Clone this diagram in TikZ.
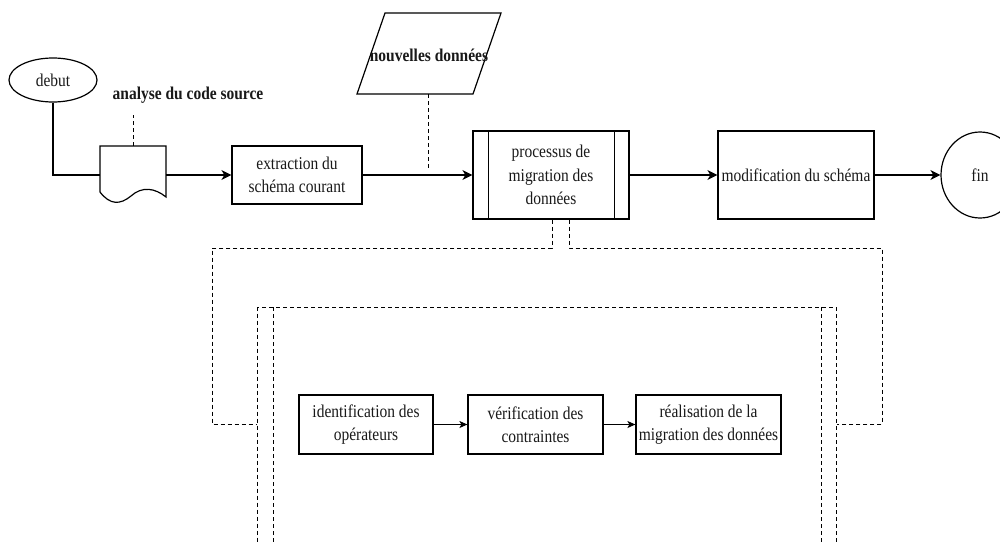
\documentclass[tikz,border=0pt]{standalone}
\usepackage{fontspec}
\setmainfont{Liberation Serif}[FakeStretch=0.86]
\usetikzlibrary{arrows.meta,shapes.geometric,calc}

\begin{document}
\begin{tikzpicture}[x=1pt,y=-1pt,
  txt/.style={font=\fontsize{18}{23.5}\selectfont, align=center, inner sep=0pt, text=black!90},
  lab/.style={txt, font=\fontsize{18}{23.5}\selectfont\bfseries},
  box/.style={txt, draw, line width=1.2pt},
  oval/.style={txt, draw, ellipse, line width=1.2pt},
  flow/.style={line width=1.2pt, -{Stealth[length=10pt,width=10pt,inset=3pt]}},
  small/.style={line width=1.2pt, -{Stealth[length=8pt,width=7pt,inset=2pt]}},
  dsh/.style={line width=1pt, dash pattern=on 4pt off 3pt},
  thin/.style={line width=1.2pt}]

\clip (0,0) rectangle (1000,541);
\fill[white] (0,0) rectangle (1000,541);

% --- main flow ---
\node[oval, minimum width=88pt, minimum height=44pt] (debut) at (53,80) {debut};

\node[minimum width=66pt, minimum height=58pt, inner sep=0pt] (doc) at (133,175) {};
\draw[thin] (100,192) -- (100,146) -- (166,146) -- (166,197)
  .. controls (155,188) and (142,186) .. (131,196)
  .. controls (120,205) and (110,205) .. (100,192) -- cycle;
\node[lab] (ana) at (188,95) {analyse du code source};
\coordinate (anaend) at (133,115);

\node[box, minimum width=130pt, minimum height=58pt] (extr) at (297,175) {extraction du\\schéma courant};

\draw[thin] (385,13) -- (501,13) -- (473,94) -- (357,94) -- cycle;
\node[lab] (nd) at (429,55) {nouvelles données};
\coordinate (ndbot) at (428,94);
\coordinate (ndend) at (428,169);

\node[box, minimum width=156pt, minimum height=88pt] (proc) at (551,175) {processus de\\migration des\\données};
\draw[thin] ($(proc.north west)+(16,0)$) -- ($(proc.south west)+(16,0)$);
\draw[thin] ($(proc.north east)+(-15,0)$) -- ($(proc.south east)+(-15,0)$);

\node[box, minimum width=156pt, minimum height=88pt] (modif) at (796,175) {modification du schéma};

\node[oval, minimum width=78pt, minimum height=86pt] (fin) at (980,175) {fin};

\draw[thin] (debut.south) |- (doc.west);
\draw[flow] (doc.east) -- (extr.west);
\draw[flow] (extr.east) -- (proc.west);
\draw[flow] (proc.east) -- (modif.west);
\draw[flow] (modif.east) -- (fin.west);
\draw[dsh] (doc.north) -- (anaend);
\draw[dsh] (ndbot) -- (ndend);

% --- detailed sub-process ---
\node[draw, dsh, minimum width=579pt, minimum height=320pt, anchor=north west, inner sep=0pt] (sub) at (257,307) {};
\draw[dsh] ($(sub.north west)+(16,0)$) -- ($(sub.south west)+(16,0)$);
\draw[dsh] ($(sub.north east)+(-16,0)$) -- ($(sub.south east)+(-16,0)$);

\coordinate (jl) at (212,424);
\coordinate (jr) at (882,424);
\draw[dsh] ($(proc.south)+(1,0)$) -- (552,248) -| (jl) -- (jl -| sub.west);
\draw[dsh] ($(proc.south)+(18,0)$) -- (569,248) -| (jr) -- (jr -| sub.east);

\node[box, minimum width=134pt, minimum height=59pt] (ident) at (366,424.5) {identification des\\opérateurs};
\node[box, minimum width=135pt, minimum height=59pt] (verif) at (535.5,424.5) {vérification des\\contraintes};
\node[box, minimum width=145pt, minimum height=59pt] (real) at (708.5,424.5) {réalisation de la\\migration des données};

\draw[small] (ident.east) -- (verif.west);
\draw[small] (verif.east) -- (real.west);
\end{tikzpicture}
\end{document}
